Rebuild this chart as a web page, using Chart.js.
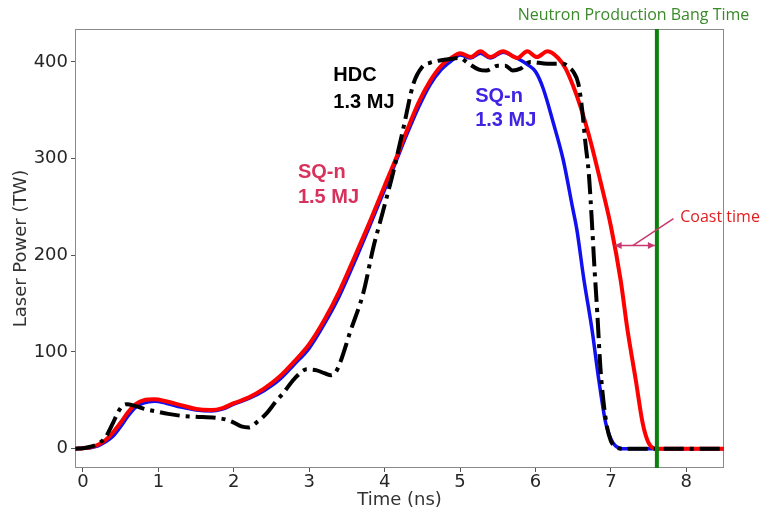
<!DOCTYPE html>
<html>
<head>
<meta charset="utf-8">
<script src="https://cdn.jsdelivr.net/npm/chart.js@4.4.1/dist/chart.umd.min.js"></script>
<style>
  html, body { margin: 0; padding: 0; background: #fff; }
  #wrap { width: 764px; height: 514px; }
</style>
</head>
<body>
<div id="wrap"><canvas id="chart" width="764" height="514"></canvas></div>
<script>
// SQ-n 1.5 MJ (red)
const timeRed = [-0.1, 0, 0.1, 0.2, 0.3, 0.4, 0.5, 0.6, 0.7, 0.8, 0.95, 1.1, 1.3, 1.5, 1.7, 1.85, 2.0, 2.2, 2.4, 2.6, 2.8, 3.0, 3.2, 3.4, 3.6, 3.8, 4.0, 4.15, 4.3, 4.45, 4.6, 4.75, 4.9, 5.0, 5.14, 5.27, 5.4, 5.57, 5.76, 5.89, 6.02, 6.16, 6.3, 6.4, 6.5, 6.6, 6.73, 6.86, 7.0, 7.13, 7.22, 7.33, 7.42, 7.5, 7.6, 8.5];
const powerRed = [0, 0.5, 1.5, 4, 9, 17, 27, 38, 46, 50, 51, 49, 45, 41, 40, 42, 47, 53, 62, 74, 90, 108, 133, 163, 198, 234, 272, 300, 330, 358, 380, 396, 405, 409, 405, 411, 405, 411, 404, 411, 405, 411, 404, 393, 375, 353, 318, 277, 230, 174, 123, 71, 27, 6, 0, 0];

// SQ-n 1.3 MJ (blue)
const timeBlue = [-0.1, 0, 0.1, 0.2, 0.3, 0.4, 0.5, 0.6, 0.7, 0.8, 0.95, 1.1, 1.3, 1.5, 1.7, 1.85, 2.0, 2.2, 2.4, 2.6, 2.8, 3.0, 3.2, 3.4, 3.6, 3.8, 4.0, 4.15, 4.3, 4.45, 4.6, 4.75, 4.9, 5.0, 5.14, 5.27, 5.4, 5.57, 5.7, 5.8, 5.9, 6.0, 6.1, 6.24, 6.37, 6.49, 6.55, 6.64, 6.75, 6.84, 6.93, 7.0, 7.06, 7.15, 8.5];
const powerBlue = [0, 0.3, 1, 3, 7, 13, 23, 34, 43, 47, 49, 47, 43, 40, 39, 41, 46, 52, 60, 71, 87, 104, 129, 158, 193, 230, 268, 297, 326, 353, 376, 392, 402, 407, 404, 409, 404, 410, 406, 402, 397, 390, 373, 336, 298, 250, 226, 176, 123, 71, 27, 10, 3, 0, 0];

// HDC 1.3 MJ (black dash-dot)
const timeHdc = [-0.1, 0, 0.1, 0.2, 0.3, 0.4, 0.46, 0.52, 0.58, 0.7, 0.82, 1.0, 1.13, 1.3, 1.49, 1.75, 1.9, 2.0, 2.1, 2.2, 2.3, 2.44, 2.55, 2.66, 2.8, 2.97, 3.1, 3.2, 3.28, 3.35, 3.41, 3.54, 3.72, 3.85, 3.98, 4.12, 4.25, 4.38, 4.5, 4.6, 4.7, 4.87, 5.0, 5.1, 5.25, 5.35, 5.5, 5.6, 5.7, 5.8, 5.93, 6.16, 6.37, 6.45, 6.5, 6.57, 6.62, 6.66, 6.71, 6.75, 6.78, 6.82, 6.86, 6.9, 6.95, 7.0, 7.06, 7.15, 8.5];
const powerHdc = [0, 0.5, 2, 5, 12, 27, 37, 44, 46, 44, 41, 38, 36, 34, 33, 32, 30, 27, 23, 22, 27, 37, 48, 58, 72, 82, 81, 78, 76, 79, 89, 120, 162, 208, 246, 288, 332, 377, 395, 399, 401, 403, 404, 399, 392, 391, 396, 396, 391, 393, 400, 398, 398, 394, 390, 377, 350, 318, 282, 232, 190, 140, 85, 50, 22, 8, 2, 0, 0];

const bangTime = 7.61;
const coastStart = 7.05;
const coastLevel = 210;

const xTicks = [0, 1, 2, 3, 4, 5, 6, 7, 8];
const yTicks = [0, 100, 200, 300, 400];
const xMin = -0.106, xMax = 8.5;
const yMin = -20, yMax = 434;

const toPoints = (xs, ys) => xs.map((x, i) => ({ x, y: ys[i] }));

const tickFont = { family: "'DejaVu Sans', sans-serif", size: 18 };

/**
 * Frame, labels and the coast-time arrow
 */
const annotate = {
  id: "annotate",
  beforeDatasetsDraw(chart) {
    const { ctx, chartArea: a } = chart;
    ctx.save();
    ctx.strokeStyle = "#8a8a8a";
    ctx.lineWidth = 1;
    ctx.strokeRect(a.left + 0.5, a.top + 0.5, a.right - a.left - 1, a.bottom - a.top - 1);
    ctx.restore();
  },
  afterDatasetsDraw(chart) {
    const { ctx, scales: { x, y } } = chart;
    ctx.save();

    const put = (text, tx, ty, font, color, align) => {
      ctx.font = font;
      ctx.fillStyle = color;
      ctx.textAlign = align || "left";
      ctx.textBaseline = "middle";
      ctx.fillText(text, x.getPixelForValue(tx), y.getPixelForValue(ty));
    };

    const bold = "bold 20px 'Liberation Sans', Arial, sans-serif";
    put("HDC", 3.32, 386, bold, "#000");
    put("1.3 MJ", 3.32, 358, bold, "#000");
    put("SQ-n", 2.85, 286, bold, "#d8315b");
    put("1.5 MJ", 2.85, 260, bold, "#d8315b");
    put("SQ-n", 5.2, 364, bold, "#3f24e4");
    put("1.3 MJ", 5.2, 339, bold, "#3f24e4");

    put("Neutron Production Bang Time", 7.3, 448, "16px 'Open Sans', sans-serif", "#3a8a2a", "center");
    put("Coast time", 7.92, 239, "16px 'Open Sans', sans-serif", "#e02020");

    // double arrow between red fall-off and bang time
    const ay = y.getPixelForValue(coastLevel);
    const ax0 = x.getPixelForValue(coastStart);
    const ax1 = x.getPixelForValue(bangTime) - 2;
    ctx.strokeStyle = "#c8386e";
    ctx.fillStyle = "#c8386e";
    ctx.lineWidth = 1.5;
    ctx.beginPath();
    ctx.moveTo(ax0, ay);
    ctx.lineTo(ax1, ay);
    ctx.stroke();
    [[ax0, 1], [ax1, -1]].forEach(([px, dir]) => {
      ctx.beginPath();
      ctx.moveTo(px, ay);
      ctx.lineTo(px + dir * 7, ay - 3.5);
      ctx.lineTo(px + dir * 7, ay + 3.5);
      ctx.closePath();
      ctx.fill();
    });
    ctx.beginPath();
    ctx.moveTo(x.getPixelForValue(7.29), ay);
    ctx.lineTo(x.getPixelForValue(7.83), y.getPixelForValue(238));
    ctx.stroke();

    ctx.restore();
  },
};

new Chart(document.getElementById("chart"), {
  type: "line",
  data: {
    datasets: [
      {
        label: "Bang time",
        data: [{ x: bangTime, y: yMin }, { x: bangTime, y: yMax }],
        borderColor: "#0c800c",
        borderWidth: 4,
        pointRadius: 0,
        order: 0,
      },
      {
        label: "HDC 1.3 MJ",
        data: toPoints(timeHdc, powerHdc),
        borderColor: "#000",
        borderWidth: 4,
        borderDash: [20, 6, 4, 6],
        cubicInterpolationMode: "monotone",
        pointRadius: 0,
        order: 1,
      },
      {
        label: "SQ-n 1.5 MJ",
        data: toPoints(timeRed, powerRed),
        borderColor: "#ff0000",
        borderWidth: 4,
        cubicInterpolationMode: "monotone",
        pointRadius: 0,
        order: 2,
      },
      {
        label: "SQ-n 1.3 MJ",
        data: toPoints(timeBlue, powerBlue),
        borderColor: "#1010f0",
        borderWidth: 3.5,
        cubicInterpolationMode: "monotone",
        pointRadius: 0,
        order: 3,
      },
    ],
  },
  options: {
    responsive: false,
    animation: false,
    events: [],
    layout: { padding: { top: 29, right: 40, left: 0, bottom: 0 } },
    plugins: { legend: { display: false }, tooltip: { enabled: false } },
    scales: {
      x: {
        type: "linear",
        min: xMin,
        max: xMax,
        afterBuildTicks: (s) => { s.ticks = xTicks.map((v) => ({ value: v })); },
        afterFit: (s) => { s.height = 46; },
        grid: { drawOnChartArea: false, drawTicks: true, tickLength: 4, tickColor: "#555" },
        border: { display: false },
        ticks: { font: tickFont, color: "#262626", padding: 0, maxRotation: 0 },
        title: { display: true, text: "Time (ns)", font: tickFont, color: "#333", padding: { top: 0, bottom: 3 } },
      },
      y: {
        type: "linear",
        min: yMin,
        max: yMax,
        afterBuildTicks: (s) => { s.ticks = yTicks.map((v) => ({ value: v })); },
        afterFit: (s) => { s.width = 75; },
        grid: { drawOnChartArea: false, drawTicks: true, tickLength: 4, tickColor: "#555" },
        border: { display: false },
        ticks: { font: tickFont, color: "#262626", padding: 3 },
        title: { display: true, text: "Laser Power (TW)", font: tickFont, color: "#333", padding: { top: 11, bottom: 0 } },
      },
    },
  },
  plugins: [annotate],
});
</script>
</body>
</html>
